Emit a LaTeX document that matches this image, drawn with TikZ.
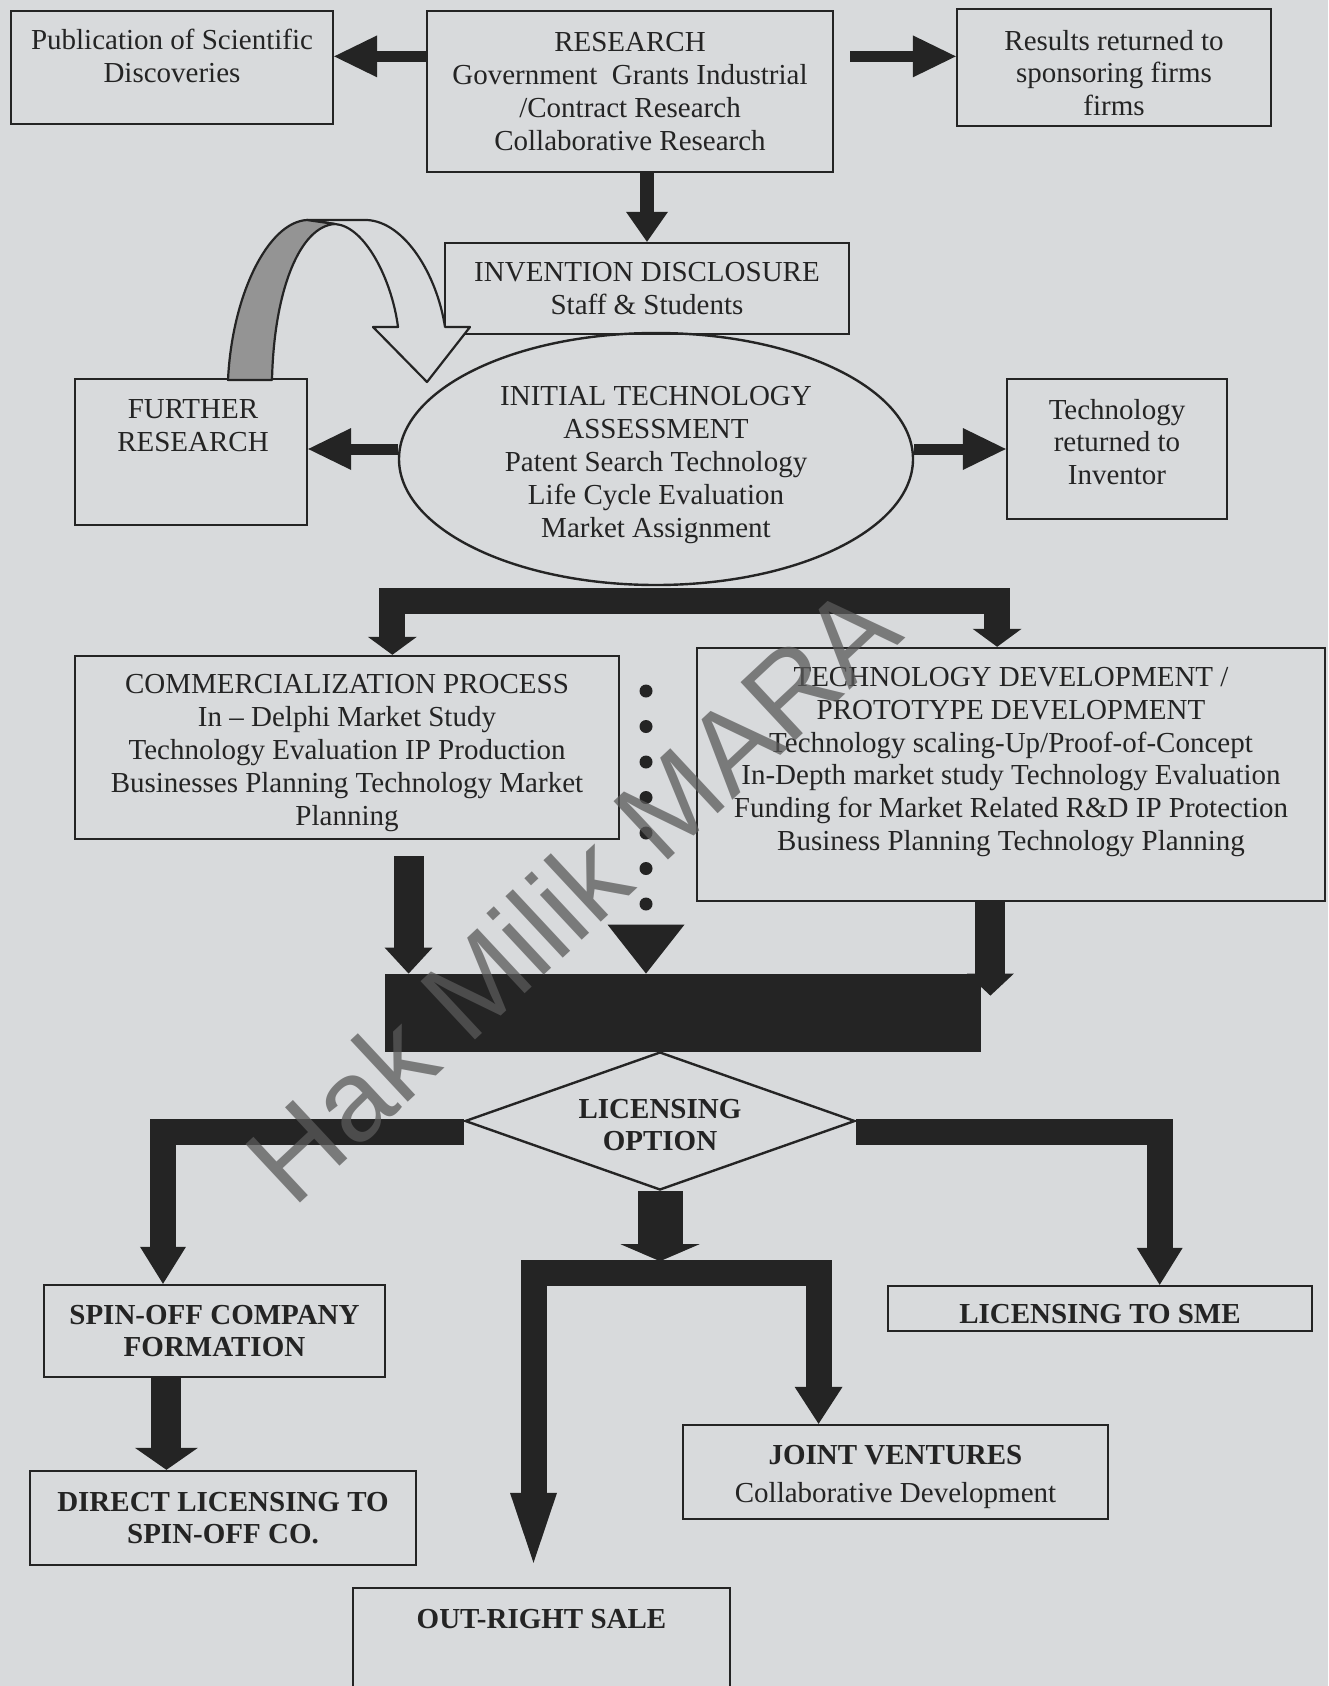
\documentclass[tikz,border=0pt]{standalone}
\usepackage{fontspec}
\setmainfont{Liberation Serif}
\setsansfont{Liberation Sans}
\usetikzlibrary{positioning,shapes.geometric,arrows.meta,calc}

\definecolor{paper}{RGB}{216,218,220}
\definecolor{ink}{RGB}{36,36,36}
\definecolor{ribbon}{RGB}{148,148,148}
\definecolor{stamp}{RGB}{90,90,90}

\tikzset{
    txt/.style={align=center, text=ink, inner sep=0pt, font=\fontsize{14.5}{16.4}\selectfont},
    boldtxt/.style={txt, font=\fontsize{14.5}{16.4}\selectfont\bfseries},
    box/.style={draw=ink, line width=1.2pt, inner sep=0pt},
    slimarrow/.style={draw=ink, line width=5.5pt, -{Triangle[width=21pt,length=21.5pt,line width=0pt]}},
    downarrow/.style={draw=ink, line width=7pt, -{Triangle[width=21pt,length=15pt,line width=0pt]}},
    fatarrow/.style={draw=ink, line width=15pt, -{Triangle[width=24pt,length=13pt,line width=0pt]}},
    fatbar/.style={draw=ink, line width=13pt, {Triangle[width=24.5pt,length=9pt,line width=0pt]}-{Triangle[width=24.5pt,length=9pt,line width=0pt]}},
    branch/.style={draw=ink, line width=13pt, -{Triangle[width=23pt,length=18.5pt,line width=0pt]}},
    widearrow/.style={draw=ink, line width=22.5pt, -{Triangle[width=39.5pt,length=8.5pt,line width=0pt]}},
    dotline/.style={draw=ink, line width=6.5pt, line cap=round, dash pattern=on 0pt off 17.75pt, -{Triangle[width=38.5pt,length=24.5pt,line width=0pt]}}
}

\begin{document}
\begin{tikzpicture}[x=0.5pt, y=-0.5pt]
        \useasboundingbox (0,0) rectangle (1328,1686);
        \clip (0,0) rectangle (1328,1686);
        \fill[paper] (0,0) rectangle (1328,1686);

        \node[box, minimum width=161pt, minimum height=56.5pt] (pub) at (172,67.5) {};
        \node[txt] (pubtext) at (172,56) {Publication of Scientific\\Discoveries};
        \node[box, txt, minimum width=203pt, minimum height=80.5pt] (research) at (630,91.5) {RESEARCH\\Government\ \ Grants Industrial\\/Contract Research\\Collaborative Research};
        \node[box, minimum width=157pt, minimum height=58.5pt] (results) at (1114,67.5) {};
        \node[txt] (resultstext) at (1114,73) {Results returned to\\sponsoring firms\\firms};
        \node[box, txt, minimum width=202pt, minimum height=45.5pt] (invention) at (647,288.5) {INVENTION DISCLOSURE\\Staff \& Students};
        \node[box, minimum width=116pt, minimum height=73pt] (further) at (191,452) {};
        \node[txt] (furthertext) at (193,426) {FURTHER\\RESEARCH};
        \node[draw=ink, line width=1.2pt, ellipse, inner sep=0pt, minimum width=257pt, minimum height=126pt] (assess) at (656,459) {};
        \node[txt] (assesstext) at (656,465) {INITIAL TECHNOLOGY\\ASSESSMENT\\Patent Search Technology\\Life Cycle Evaluation\\Market Assignment};
        \node[box, minimum width=110pt, minimum height=70pt] (techret) at (1117,449) {};
        \node[txt] (techrettext) at (1117,442) {Technology\\returned to\\Inventor};
        \node[box, minimum width=272pt, minimum height=91.5pt] (comm) at (347,747.5) {};
        \node[txt] (commtext) at (347,753) {COMMERCIALIZATION PROCESS\\In -- Delphi Market Study\\Technology Evaluation IP Production\\Businesses Planning Technology Market\\Planning};
        \node[box, minimum width=314pt, minimum height=126.5pt] (techdev) at (1011,774.5) {};
        \node[txt] (techdevtext) at (1011,762) {TECHNOLOGY DEVELOPMENT /\\PROTOTYPE DEVELOPMENT\\Technology scaling-Up/Proof-of-Concept\\In-Depth market study Technology Evaluation\\Funding for Market Related R\&D IP Protection\\Business Planning Technology Planning};
        \node[fill=ink, inner sep=0pt, minimum width=298pt, minimum height=39pt] (merge) at (683,1013) {};
        \node[box, diamond, aspect=2.8, minimum width=195pt, minimum height=69pt] (option) at (660,1121) {};
        \node[boldtxt] (optiontext) at (660,1125) {LICENSING\\OPTION};
        \node[box, boldtxt, minimum width=170.5pt, minimum height=46pt] (spin) at (214.5,1331) {SPIN-OFF COMPANY\\FORMATION};
        \node[box, minimum width=212pt, minimum height=22.5pt] (sme) at (1100,1308.5) {};
        \node[boldtxt] (smetext) at (1100,1314) {LICENSING TO SME};
        \node[box, boldtxt, minimum width=193pt, minimum height=47pt] (direct) at (223,1518) {DIRECT LICENSING TO\\SPIN-OFF CO.};
        \node[box, minimum width=212.5pt, minimum height=47pt] (jv) at (895.5,1472) {};
        \node[txt] (jvtext) at (895.5,1477) {{\bfseries JOINT VENTURES}\\[2.4pt]Collaborative Development};
        \node[box, minimum width=188.5pt, minimum height=66pt] (outbox) at (541.5,1654) {};
        \node[boldtxt] (outtext) at (541.5,1619) {OUT-RIGHT SALE};

        \coordinate (rl) at ($(research.north west)!0.285!(research.south west)$);
        \coordinate (rr) at ($(research.north east)!0.285!(research.south east)$);
        \draw[slimarrow] (rl) -- (rl -| pub.east);
        \draw[slimarrow] (rr) ++(16,0) -- (rr -| results.west);
        \draw[downarrow] (invention.north |- research.south) -- (invention.north);
        \coordinate (al) at ($(assess.west)+(0,-10)$);
        \coordinate (ar) at ($(assess.east)+(0,-10)$);
        \draw[slimarrow] (al) -- (al -| further.east);
        \draw[slimarrow] (ar) -- (ar -| techret.west);

        \filldraw[fill=paper, draw=ink, line width=1.1pt, line join=round] (335,224) .. controls (365,226) and (392,280) .. (398,327) -- (373,327) -- (427,382) -- (470,327) -- (445,327) .. controls (437,275) and (405,222) .. (367,220) -- (307,220) -- cycle;
        \filldraw[fill=ribbon, draw=ink, line width=1.1pt, line join=round] (228,380) .. controls (232,295) and (268,222) .. (307,220) -- (335,224) .. controls (300,226) and (274,290) .. (272,380) -- cycle;

        \coordinate (cl) at ($(comm.north west)!0.583!(comm.north east)$);
        \coordinate (cr) at ($(techdev.north west)!0.478!(techdev.north east)$);
        \draw[fatbar] (cl) |- ($(assess.south)+(0,15)$) -| (cr);

        \coordinate (ml) at ($(merge.north west)+(24,0)$);
        \coordinate (mr) at ($(merge.north east)+(9,22)$);
        \draw[fatarrow] (ml |- comm.south) ++(0,16) -- (ml);
        \draw[fatarrow, -{Triangle[width=23.5pt,length=11pt,line width=0pt]}] (mr |- techdev.south) -- (mr);
        \coordinate (dottop) at (646,691);
        \draw[dotline] (dottop) -- (dottop |- merge.north);

        \coordinate (sl) at ($(spin.north west)!0.35!(spin.north east)$);
        \coordinate (sr) at ($(sme.north west)!0.64!(sme.north east)$);
        \draw[branch] ($(option.west)+(0,11)$) -| (sl);
        \draw[branch] ($(option.east)+(0,11)$) -| (sr);
        \coordinate (split) at ($(option.south)+(0,82)$);
        \draw[widearrow] (option.south) -- ($(split)+(0,-12)$);
        \coordinate (ol) at ($(outbox.north)+(-8,-24)$);
        \coordinate (jl) at ($(jv.north west)!0.32!(jv.north east)$);
        \draw[branch, {Triangle[width=23.5pt,length=35pt,line width=0pt]}-{Triangle[width=24pt,length=18.5pt,line width=0pt]}] (ol) |- (split) -| (jl);
        \coordinate (sd) at ($(spin.south west)!0.36!(spin.south east)$);
        \draw[fatarrow, -{Triangle[width=31.5pt,length=11pt,line width=0pt]}] (sd) -- (sd |- direct.north);

        \node[rotate=43, text=stamp, opacity=.75, font=\sffamily\fontsize{58}{58}\selectfont] (stamp) at (572,893) {Hak Milik MARA};
\end{tikzpicture}
\end{document}
